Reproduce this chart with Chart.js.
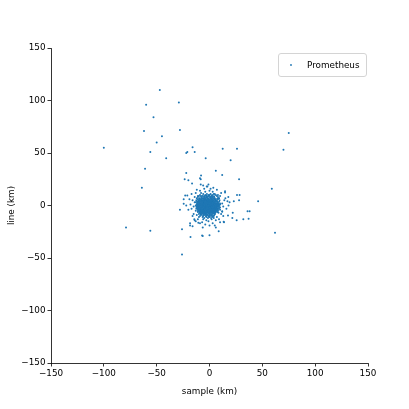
<!DOCTYPE html>
<html><head><meta charset="utf-8">
<script src="https://cdn.jsdelivr.net/npm/chart.js@4"></script>
<style>html,body{margin:0;padding:0;background:#fff}canvas{display:block}</style>
</head><body>
<canvas id="c" width="409" height="409"></canvas>
<script>
const seriesLabel = 'Prometheus';
const xTitle = 'sample (km)';
const yTitle = 'line (km)';
const xTicks = [-150, -100, -50, 0, 50, 100, 150];
const yTicks = [-150, -100, -50, 0, 50, 100, 150];

const outliers = [
[-47,110],[-60,96],[-29,98],[-53,84],[-62,71],[-28,72],[-45,66],[-50,60],[-100,55],[-56,51],
[-41,45],[-22,50],[-21,51],[-16,55.5],[-14,51],[-3.6,45],[12.5,54],[26,54],[20,43],[-61,35],
[-22,31],[6,33],[12,29],[-23.5,25],[-20,24],[-9,26],[-8,28.6],[-16.5,21],[28,25],[-64,17],
[26,10],[75,69],[70,53],[59,16],[46,4],[36,-5.4],[38,-5.4],[32,-13],[37,-12.7],[21.6,-12],
[25.7,-14],[62,-26],[8.7,-24.5],[-7,-28.6],[0,-28.3],[28.5,10],[28,5],[14.7,13.6],[14.7,12.4],[23,4],
[17.8,8],[17.5,-9.5],[13.7,-16],[-79,-21],[-56,-24],[-26,-22.5],[-18,-30],[-26,-46.7],[-28,-4],[-24.4,6],
[-24.4,1.6],[-23,9.5],[-21,9.5],[-18.4,-17],[-16,-19.7],[-14.4,-13],[-8.3,25],[-8.3,20],[-2.6,18],[3.6,17],
[19,3],[12,-5.4],[22,-7],[10,-16],[13.4,-15.5],[-18.4,-19],[-13,-15],[-10.6,-16.5],[-6.4,-21],[0,-19],
[6,-21],[-6.4,-29]
];

const clusterCore = [
[-2,0],[-1,1],[-3,-1],[0,2],[-4,1],[-2,3],[1,-1],[-1,-2],[-3,2],[-5,0],[0,0],[-2,-3],[2,1],[-4,-2],[-1,4],
[-3,-4],[1,3],[-6,2],[0,-3],[2,-2],[-2,1.5],[-0.5,-0.5],[-3.5,0.5],[-1.5,2.5],[0.5,1.5],[-2.5,-1.5],[-4.5,3],
[1.5,0.5],[-1,-4],[-3,4],[-5,-3],[2.5,2.5],[-0.5,3.5],[-2,-5],[0,5],[-6,-1],[3,0],[-4,5],[1,-4],[-5,4],[2,4],
[-3,-5.5],[-7,0],[3,-3],[-1,6],[-0.8,-1.2],[-2.7,0.9],[-1.9,-0.4],[-3.2,-2.6],[0.7,-2.1],[-4.1,-0.7],[-2.2,2.1],
[0.3,3.9],[-1.4,-3.1],[-3.8,1.8],[1.9,-0.6],[-2.9,3.3],[-0.2,-4.6],[-5.4,1.2],[2.8,1.1],[-1.6,4.8],[-4.6,-3.9],
[0.9,2.6],[-2.4,-2.2],[-3.6,-1.1],[1.2,-2.9],[-0.6,0.8],[-1.1,1.9],[-2.6,-0.9],[-3.3,2.9],[0.1,-1.7],[-4.8,0.3],
[-1.8,-4.3],[1.6,3.4],[-5.7,-2.1],[2.2,-1.4],[-0.4,4.2],[-3,0],[-2,-1],[-1,0.5],[0.4,0.2],[-4,-4.5],[2,-4],
[-6.3,3.7],[3.6,2.2],[-2.1,5.6],[-0.9,-5.2],[3.1,-1.9],[-6.6,-0.4],[-1.3,3.1],[-3.9,3.9],[0.6,-3.6],[-2.8,-3.4],
[1.4,1.2],[-4.3,2.3],[-1.7,-2.6],[-0.1,2.2],[-3.1,1.1],[-2.3,-1.9],[-5.1,-1.6],[0.8,4.6],[-1.2,-0.1]
];

const clusterMid = [
[-9,2],[-8,-3],[5,1],[4,-5],[-7,5],[-3,8],[0,-8],[3,6],[-9,-5],[-5,-7],[6,4],[-10,0],[2,-7],[-6,7],[1,8],
[-8,6],[5,-3],[-4,-8],[7,-1],[-11,-2],[-1,9],[4,7],[-7,-6],[6,-6],[-2,-9],[-10,4],[8,2],[-5,9],[2,9],[-9,-7],
[7,5],[-3,-10],[9,-2],[-12,1],[0,10],[5,-8],[-8,9],[-11,-6],[3,-10],[8,-5],[-6,-9],[10,1],[-7,2.5],[-8.5,-1],
[4.5,2.5],[3.5,-3.5],[-6.5,-4.5],[-4.5,6.5],[1.5,6.5],[-0.5,-7],[5.5,-1.5],[-9.5,3.5],[-2.5,7.5],[2.5,-5.5],
[-7.5,-2.5],[6.5,1.5],[-5.5,5.5],[4,4],[-3.5,-6.5],[0.5,7.5],[-8,0.5],[-6,-2],[3,2.5],[4,-1],[-7,3.8],[-1,-6.2],
[-4.2,-5.8],[2.2,5.1],[5.2,3.3],[-6.8,-3.1],[-9.2,0.8],[1.1,-6.4],[-3.7,6.9],[6.2,-2.9],[-5.9,-5.3],[-10.4,-3.3],
[3.8,-6.8],[-1.9,8.6],[7.4,3.1],[-8.7,4.6],[-2.8,-7.9],[4.9,5.7],[-7.3,7.1],[8.3,-0.8],[-11.5,2.7],[0.3,-9.6],
[5.8,-4.7],[-4.9,8.1],[2.9,7.8],[-9.8,-4.2],[6.9,-3.8],[-6.2,-7.7],[1.7,-8.5],[-3.4,9.3],[9.1,3.6],[-12.3,-1.4],
[-0.7,-10.8],[4.3,8.9],[-8.1,-8.4],[7.7,-6.1]
];

const clusterOuter = [
[-14,3],[-13,-5],[10,-4],[9,7],[-11,9],[-4,13],[2,-13],[-15,-1],[12,2],[-8,12],[5,11],[-12,-9],[-3,-14],[11,-8],
[-16,5],[7,-11],[-6,-13],[0,14],[13,-1],[-10,-11],[-14,8],[8,10],[-1,-15],[4,-12],[-17,-3],[10,9],[-9,14],[3,13],
[-5,16],[14,5],[-13,12],[-11,-13],[6,-14],[-18,1],[12,-6],[-7,-16],[1,16],[16,-3],[-15,-8],[9,-13],[-2,18],[-4,-18],
[15,7],[-12,15],[-16,-10],[11,12],[-20,-4],[7,15],[-9,-17],[18,0],[-19,6],[13,-10],[-1,20],[3,-17],[-14,-14],[17,4],
[-22,0],[-6,19],[5,-19],[-17,11]
];

// dense core of the cloud, read row by row: [y, [x values]]
const clusterRows = [
[11, [-6,-2.5,1,4]],
[10, [-9,-4,-1,2.5,6]],
[9, [-10,-6.5,-3,0,3,7]],
[8, [-11,-8,-5,-2,1.5,4.5,8]],
[7, [-12,-9.5,-7,-4,-1,2,5,9]],
[6.5, [-9.7,-5.2,-1.8,1.2,4.1,7.3]],
[6, [-11,-8.5,-6,-3.5,-0.5,2.5,5.5,8]],
[5.5, [-8.8,-4.2,-1.3,1.8,4.8]],
[5, [-12.5,-10,-7.5,-5,-2.5,0.5,3,6,9.5]],
[4.5, [-10.2,-7.8,-5.7,-3.1,-0.8,1.2,3.6,6.2]],
[4, [-11,-9,-6.5,-4.5,-2,0,2,4.5,7]],
[3.5, [-11.8,-9.2,-6.9,-4.6,-2.3,-0.1,2.4,4.1,6.8]],
[3, [-13,-10,-8,-5.5,-3.5,-1,1,3,5,8]],
[2.5, [-10.6,-8.1,-5.9,-3.9,-1.6,0.6,2.7,4.9,7.4]],
[2, [-11.5,-9,-7,-4.5,-2.5,-0.5,1.5,3.5,6,10]],
[1.5, [-11.2,-9.3,-7.1,-5.2,-3.2,-1.1,0.9,3.1,5.3,8.2]],
[1, [-12,-10,-8,-6,-4,-2,0,2,4,7,9]],
[0.5, [-10.4,-8.3,-6.3,-4.4,-2.7,-0.6,1.3,3.4,5.6,7.6]],
[0, [-13,-11,-9,-7.5,-5.5,-3.5,-1.5,0.5,2.5,4.5,6.5,8.5]],
[-0.5, [-11.6,-9.4,-7.2,-5.1,-3.3,-1.2,0.8,2.9,4.8,6.9,9.3]],
[-1, [-12,-10,-8.5,-6.5,-4.5,-2.5,-0.5,1.5,3.5,5.5,8]],
[-1.5, [-10.3,-7.9,-5.8,-3.8,-1.8,0.3,2.2,4.3,6.2]],
[-2, [-11,-9,-7,-5,-3,-1,1,3,5,7,10]],
[-2.5, [-11.4,-8.9,-6.8,-4.9,-2.9,-0.8,1.4,3.6,5.7,7.8]],
[-3, [-12.5,-10,-8,-6,-4,-2,0,2,4,6.5,9]],
[-3.5, [-9.6,-7.4,-5.3,-3.4,-1.4,0.6,2.6,4.4,6.9]],
[-4, [-11,-9,-7,-5,-3,-1,1,3,5.5,8]],
[-4.5, [-10.7,-8.4,-6.2,-4.2,-2.2,-0.3,1.7,3.8,6.1]],
[-5, [-10,-8,-6,-4,-2,0,2.5,4.5,7]],
[-5.5, [-9.1,-7.2,-5.1,-3.2,-1.2,0.8,3.1,5.2]],
[-6, [-11,-8.5,-6.5,-4.5,-2.5,-0.5,1.5,3.5,6]],
[-6.5, [-7.8,-5.6,-3.7,-1.7,0.4,2.4,4.7]],
[-7, [-9.5,-7,-5,-3,-1,1,3,5.5,8.5]],
[-7.5, [-8.6,-4.3,-0.4,3.8]],
[-8, [-10,-7.5,-5.5,-3.5,-1.5,0.5,2.5,5]],
[-9, [-8,-5,-2.5,0,2,4.5]],
[-10, [-9,-6,-3.5,-1,1.5,4]],
[-11, [-6.5,-3,0,3]],
[-12, [-5,-1.5,1.5]]
];

const rowPoints = [];
clusterRows.forEach(r => r[1].forEach(x => rowPoints.push([x, r[0]])));

const allPoints = [].concat(rowPoints, clusterCore, clusterMid, clusterOuter, outliers).map(p => ({x: p[0], y: p[1]}));

const FONT = 'DejaVu Sans';
const FS = 8.8;
const minusFmt = v => String(v).replace('-', '\u2212');

const legendBox = {
  id: 'legendBox',
  afterDraw(chart) {
    const ctx = chart.ctx;
    const ds = chart.data.datasets[0];
    const bx = 278.5, by = 53.5, bw = 88, bh = 23;
    ctx.save();
    ctx.beginPath();
    const r = 2.5;
    ctx.moveTo(bx + r, by);
    ctx.lineTo(bx + bw - r, by); ctx.quadraticCurveTo(bx + bw, by, bx + bw, by + r);
    ctx.lineTo(bx + bw, by + bh - r); ctx.quadraticCurveTo(bx + bw, by + bh, bx + bw - r, by + bh);
    ctx.lineTo(bx + r, by + bh); ctx.quadraticCurveTo(bx, by + bh, bx, by + bh - r);
    ctx.lineTo(bx, by + r); ctx.quadraticCurveTo(bx, by, bx + r, by);
    ctx.closePath();
    ctx.fillStyle = 'rgba(255,255,255,0.8)';
    ctx.fill();
    ctx.strokeStyle = '#d4d4d4';
    ctx.lineWidth = 1;
    ctx.stroke();
    ctx.fillStyle = ds.backgroundColor;
    ctx.beginPath();
    ctx.arc(291, 65, 0.9, 0, Math.PI * 2);
    ctx.fill();
    ctx.fillStyle = '#000';
    ctx.font = FS + 'px "' + FONT + '"';
    ctx.textBaseline = 'middle';
    ctx.textAlign = 'left';
    ctx.fillText(ds.label, 307, 65.5);
    ctx.restore();
  }
};

new Chart(document.getElementById('c'), {
  type: 'scatter',
  data: {
    datasets: [{
      label: seriesLabel,
      data: allPoints,
      backgroundColor: '#1f77b4',
      borderWidth: 0,
      pointRadius: 1,
      pointHoverRadius: 1
    }]
  },
  options: {
    responsive: false,
    animation: false,
    events: [],
    layout: {padding: {left: 0, top: 48, right: 41, bottom: 0}},
    plugins: {legend: {display: false}, tooltip: {enabled: false}},
    scales: {
      x: {
        type: 'linear', min: -150, max: 150,
        afterBuildTicks: s => { s.ticks = xTicks.map(v => ({value: v})); },
        afterFit: s => { s.height = 46; },
        ticks: {color: '#000', font: {family: FONT, size: FS}, padding: 2, maxRotation: 0, callback: minusFmt},
        grid: {display: true, drawOnChartArea: false, drawTicks: true, tickLength: 3.5, color: '#000', lineWidth: 0.8},
        border: {display: true, color: '#000', width: 0.8},
        title: {display: true, text: xTitle, color: '#000', font: {family: FONT, size: FS}, padding: {top: 0, bottom: 12.5}}
      },
      y: {
        type: 'linear', min: -150, max: 150,
        afterBuildTicks: s => { s.ticks = yTicks.map(v => ({value: v})); },
        afterFit: s => { s.width = 51; },
        ticks: {color: '#000', font: {family: FONT, size: FS}, padding: 2, callback: minusFmt},
        grid: {display: true, drawOnChartArea: false, drawTicks: true, tickLength: 3.5, color: '#000', lineWidth: 0.8},
        border: {display: true, color: '#000', width: 0.8},
        title: {display: true, text: yTitle, color: '#000', font: {family: FONT, size: FS}, padding: {top: 6.7, bottom: 0}}
      }
    }
  },
  plugins: [legendBox]
});
</script>
</body></html>
